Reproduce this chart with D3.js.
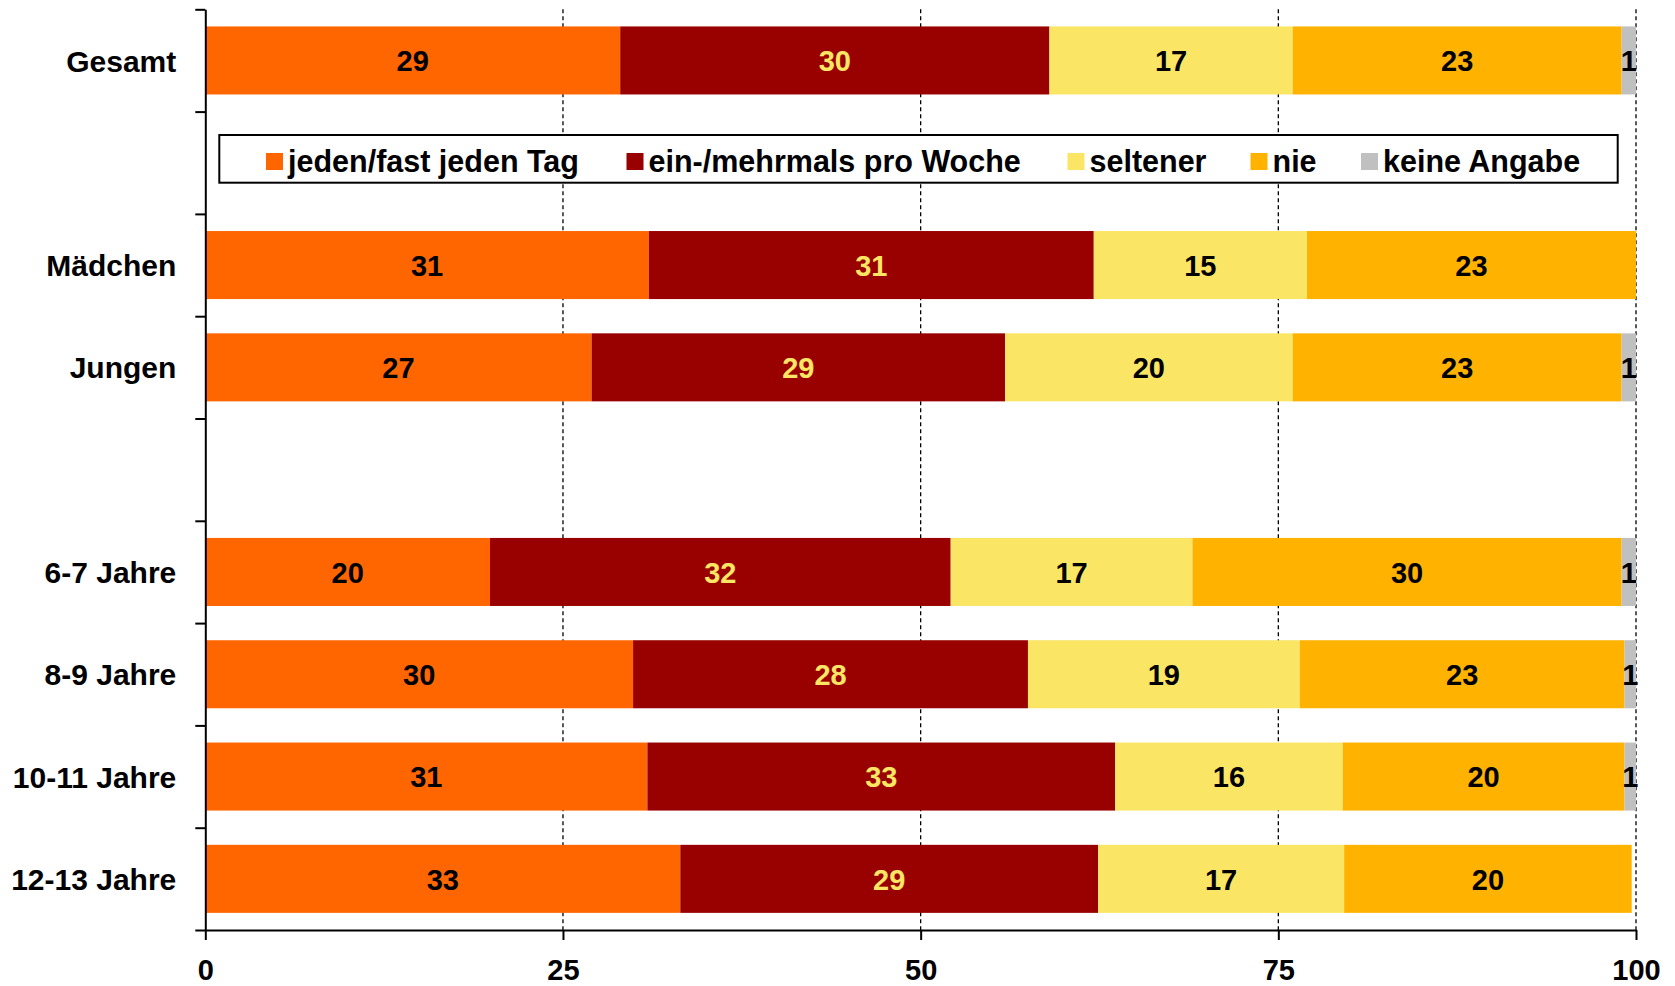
<!DOCTYPE html>
<html>
<head>
<meta charset="utf-8">
<script src="https://cdn.jsdelivr.net/npm/d3@7"></script>
<style>
  html, body { margin: 0; padding: 0; background: #fff; }
  svg text { font-family: "Liberation Sans", Arial, sans-serif; font-weight: bold; }
</style>
</head>
<body>
<div id="chart"></div>
<script>
// Kategorien (leere Zeilen = Platz für Legende / Abstand)
var categories = ["Gesamt", "", "Mädchen", "Jungen", "", "6-7 Jahre", "8-9 Jahre", "10-11 Jahre", "12-13 Jahre"];
var seriesNames = ["jeden/fast jeden Tag", "ein-/mehrmals pro Woche", "seltener", "nie", "keine Angabe"];

// Werte in Prozent
var daily    = [29.0, null, 31.0, 27.0, null, 19.9, 29.9, 30.9, 33.2];
var weekly   = [30.0, null, 31.1, 28.9, null, 32.2, 27.6, 32.7, 29.2];
var rarely   = [17.0, null, 14.9, 20.1, null, 16.9, 19.0, 15.9, 17.2];
var never    = [23.0, null, 23.0, 23.0, null, 30.0, 22.7, 19.7, 20.1];
var noAnswer = [1.0,  null, 0,    1.0,  null, 1.0,  0.8,  0.8,  0];

var xTicks = [0, 25, 50, 75, 100];

var colors = ["#ff6600", "#990000", "#fae664", "#ffb300", "#c0c0c0"];
var labelColors = ["#000", "#fae664", "#000", "#000", "#000"];

var W = 1675, H = 986;
var margin = {top: 9.3, right: 39, bottom: 56, left: 205.3};

var keys = ["daily", "weekly", "rarely", "never", "noAnswer"];
var seriesValues = [daily, weekly, rarely, never, noAnswer];

// Tabelle für d3.stack
var table = categories.map((c, i) => {
    var row = {row: i, label: c};
    keys.forEach((k, j) => row[k] = seriesValues[j][i]);
    return row;
}).filter(d => d.daily != null);

var stacked = d3.stack().keys(keys)(table);

var svg = d3.select("#chart").append("svg")
    .attr("width", W)
    .attr("height", H);

var x = d3.scaleLinear().domain([0, 100]).range([margin.left, W - margin.right]);
var rowIdx = d3.scaleLinear().domain([0, categories.length]).range([margin.top, H - margin.bottom]);
var y = d3.scaleBand()
    .domain(d3.range(categories.length))
    .range([margin.top, H - margin.bottom])
    .paddingInner(0.335)
    .paddingOuter(0.1675);

// Gitterlinien (gestrichelt)
svg.append("g")
    .selectAll("line")
    .data(xTicks.filter(d => d > 0))
    .join("line")
    .attr("x1", d => x(d)).attr("x2", d => x(d))
    .attr("y1", margin.top).attr("y2", H - margin.bottom)
    .attr("stroke", "#000")
    .attr("stroke-width", 1.3)
    .attr("stroke-dasharray", "4,3");

// Balken
var layers = svg.append("g")
    .selectAll("g")
    .data(stacked)
    .join("g")
    .attr("fill", (d, i) => colors[i]);

layers.selectAll("rect")
    .data(d => d)
    .join("rect")
    .attr("x", d => x(d[0]))
    .attr("width", d => x(d[1]) - x(d[0]))
    .attr("y", d => y(d.data.row))
    .attr("height", y.bandwidth());

// Werte in den Balken
svg.append("g")
    .selectAll("g")
    .data(stacked)
    .join("g")
    .attr("fill", (d, i) => labelColors[i])
    .selectAll("text")
    .data(d => d.filter(s => Math.round(s[1] - s[0]) >= 1))
    .join("text")
    .attr("x", d => x((d[0] + d[1]) / 2))
    .attr("y", d => y(d.data.row) + y.bandwidth() / 2)
    .attr("dy", "0.37em")
    .attr("text-anchor", "middle")
    .attr("font-size", 29)
    .text(d => Math.round(d[1] - d[0]));

// Legende
var legend = svg.append("g");
legend.append("rect")
    .attr("x", 219.3).attr("y", 135)
    .attr("width", 1398.4).attr("height", 47.7)
    .attr("fill", "#fff")
    .attr("stroke", "#000")
    .attr("stroke-width", 2);

var legendX = [266, 626.5, 1067.5, 1250.5, 1361];
var items = legend.selectAll("g.item")
    .data(seriesNames)
    .join("g")
    .attr("class", "item")
    .attr("transform", (d, i) => `translate(${legendX[i]},153)`);
items.append("rect")
    .attr("width", 17).attr("height", 17)
    .attr("fill", (d, i) => colors[i]);
items.append("text")
    .attr("x", 22)
    .attr("y", 19)
    .attr("font-size", 30.5)
    .attr("fill", "#000")
    .text(d => d);

// Y-Achse mit Strichen an den Zeilengrenzen
var yAxis = svg.append("g")
    .attr("transform", `translate(${margin.left},0)`)
    .call(d3.axisLeft(rowIdx)
        .tickValues(d3.range(categories.length + 1))
        .tickSize(10)
        .tickSizeOuter(0)
        .tickFormat(""));
yAxis.selectAll("path, line").attr("stroke", "#000").attr("stroke-width", 2);

svg.append("g")
    .selectAll("text")
    .data(categories)
    .join("text")
    .attr("x", margin.left - 29)
    .attr("y", (d, i) => y(i) + y.bandwidth() / 2)
    .attr("dy", "0.37em")
    .attr("text-anchor", "end")
    .attr("font-size", 30)
    .attr("fill", "#000")
    .text(d => d);

// X-Achse
var xAxis = svg.append("g")
    .attr("transform", `translate(0,${H - margin.bottom})`)
    .call(d3.axisBottom(x)
        .tickValues(xTicks)
        .tickSize(10)
        .tickSizeOuter(0)
        .tickPadding(19));
xAxis.selectAll("path, line").attr("stroke", "#000").attr("stroke-width", 2);
xAxis.selectAll("text")
    .attr("font-size", 29)
    .attr("fill", "#000")
    .attr("font-family", "'Liberation Sans', Arial, sans-serif")
    .attr("font-weight", "bold");
</script>
</body>
</html>
